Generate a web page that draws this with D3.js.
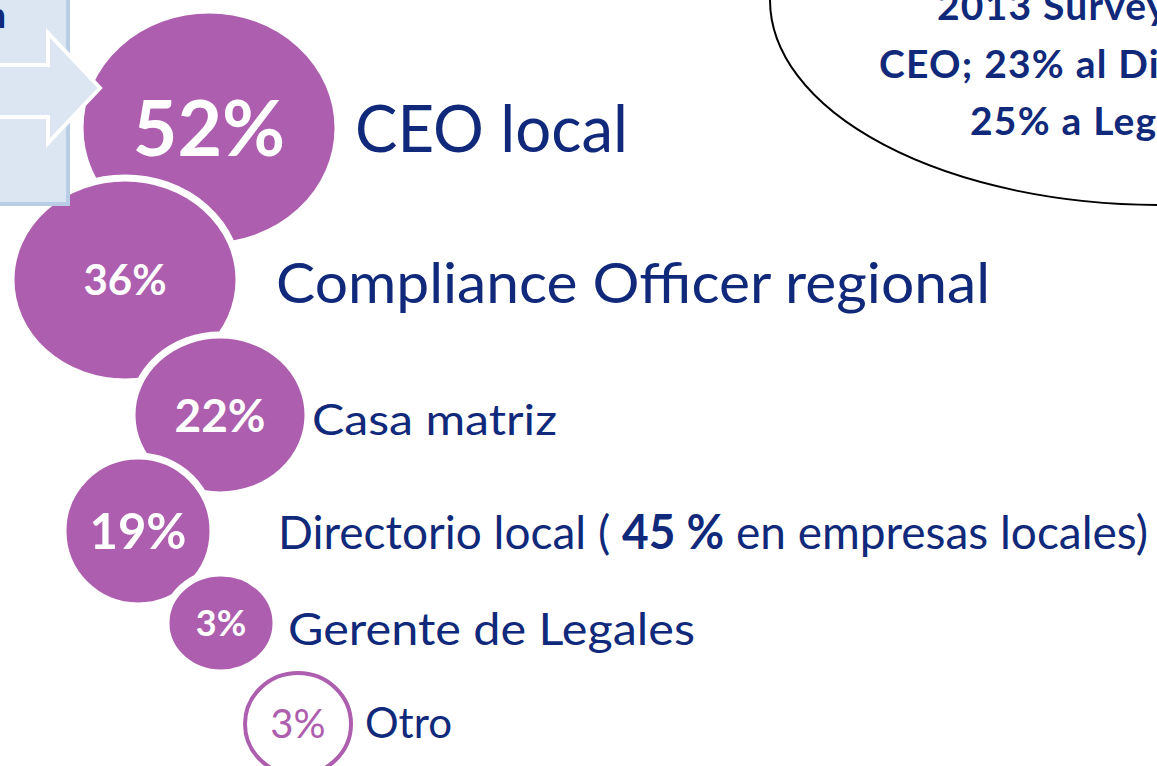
<!DOCTYPE html>
<html>
<head>
<meta charset="utf-8">
<script src="https://cdn.jsdelivr.net/npm/d3@7"></script>
<style>
  html, body { margin: 0; padding: 0; background: #fff; overflow: hidden; }
  svg { display: block; font-family: Lato, "Open Sans", sans-serif; }
</style>
</head>
<body>
<script>
// values
var pcts = [52, 36, 22, 19, 3, 3];
var categories = ["CEO local", "Compliance Officer regional", "Casa matriz",
                  "Directorio local", "Gerente de Legales", "Otro"];
var localBoardPct = 45;
var noteLines = ["2013 Survey", "CEO; 23% al Directorio;", "25% a Legales"];

// layout of the bubbles (centre, radii) and their labels
var bubbleX  = [209, 125, 220, 138, 221, 298];
var bubbleY  = [128, 280, 415, 531, 623, 724];
var bubbleRx = [129, 114, 88, 75, 55, 53];
var bubbleRy = [118, 102, 80, 75, 50, 51];
var pctSize  = [77, 42, 46, 49, 36, 40];
var labelX    = [355, 276, 312, 278, 288, 365];
var labelY    = [152, 303, 435, 549, 645, 738];
var labelSize = [66, 56, 42, 47, 45, 42];
var labelLen  = [273, 714, 245, 870, 407, 87];

var purple = "#ad5eae";
var navy = "#10297a";

var svg = d3.select("body").append("svg")
            .attr("width", 1157)
            .attr("height", 766);

var rows = d3.range(pcts.length).map(function(i){
  return {i: i, pct: pcts[i], name: categories[i], outline: i == pcts.length - 1};
});

// note ellipse, top right
svg.append("ellipse")
   .attr("cx", 1160).attr("cy", 0)
   .attr("rx", 390).attr("ry", 205)
   .style("fill", "#fff")
   .style("stroke", "#000")
   .style("stroke-width", 2);

var noteX = [937, 879, 970];
var noteY = [20, 78, 135];
svg.append("g").selectAll("text")
   .data(noteLines)
   .enter().append("text")
   .attr("x", function(d, i){ return noteX[i]; })
   .attr("y", function(d, i){ return noteY[i]; })
   .style("font-size", "39px")
   .style("font-weight", "bold")
   .style("letter-spacing", "1.2px")
   .style("fill", navy)
   .text(function(d){ return d; });

// bubbles, later ones on top with a white rim
var bubbles = svg.append("g").selectAll("g")
   .data(rows)
   .enter().append("g");

bubbles.append("ellipse")
   .attr("cx", function(d){ return bubbleX[d.i]; })
   .attr("cy", function(d){ return bubbleY[d.i]; })
   .attr("rx", function(d){ return bubbleRx[d.i]; })
   .attr("ry", function(d){ return bubbleRy[d.i]; })
   .style("fill", function(d){ return d.outline ? "#fff" : purple; })
   .style("stroke", function(d){ return d.outline ? purple : "#fff"; })
   .style("stroke-width", function(d){ return d.outline ? 4 : 7; });

bubbles.append("text")
   .attr("x", function(d){ return bubbleX[d.i]; })
   .attr("y", function(d){ return bubbleY[d.i] + pctSize[d.i] * 0.72 / 2; })
   .attr("text-anchor", "middle")
   .style("font-size", function(d){ return pctSize[d.i] + "px"; })
   .style("font-weight", function(d){ return d.outline ? "normal" : "bold"; })
   .style("fill", function(d){ return d.outline ? purple : "#fff"; })
   .text(function(d){ return d.pct + "%"; });

// category labels
var labels = svg.append("g").selectAll("text")
   .data(rows)
   .enter().append("text")
   .attr("x", function(d){ return labelX[d.i]; })
   .attr("y", function(d){ return labelY[d.i]; })
   .style("font-size", function(d){ return labelSize[d.i] + "px"; })
   .style("fill", navy);

labels.append("tspan").text(function(d){ return d.name; });
labels.filter(function(d){ return d.i == 3; }).each(function(){
  var t = d3.select(this);
  t.append("tspan").text(" ( ");
  t.append("tspan").style("font-weight", "bold").text(localBoardPct + " %");
  t.append("tspan").text(" en empresas locales)");
});
labels.attr("textLength", function(d){ return labelLen[d.i]; })
      .attr("lengthAdjust", "spacingAndGlyphs");

// box with arrow, top left
svg.append("rect")
   .attr("x", -10).attr("y", -10)
   .attr("width", 78).attr("height", 214)
   .style("fill", "#dce6f2")
   .style("stroke", "#b9cde5")
   .style("stroke-width", 4);

svg.append("text")
   .attr("x", 6).attr("y", 28)
   .attr("text-anchor", "end")
   .style("font-size", "36px")
   .style("font-weight", "bold")
   .style("fill", navy)
   .text("Reportan");

var arrowPts = [[-10, 65], [48, 65], [48, 33], [100, 88], [48, 143], [48, 117], [-10, 117]];
svg.append("path")
   .attr("d", d3.line()(arrowPts) + "Z")
   .style("fill", "#dce6f2")
   .style("stroke", "#fff")
   .style("stroke-width", 4)
   .style("stroke-linejoin", "miter");
</script>
</body>
</html>
